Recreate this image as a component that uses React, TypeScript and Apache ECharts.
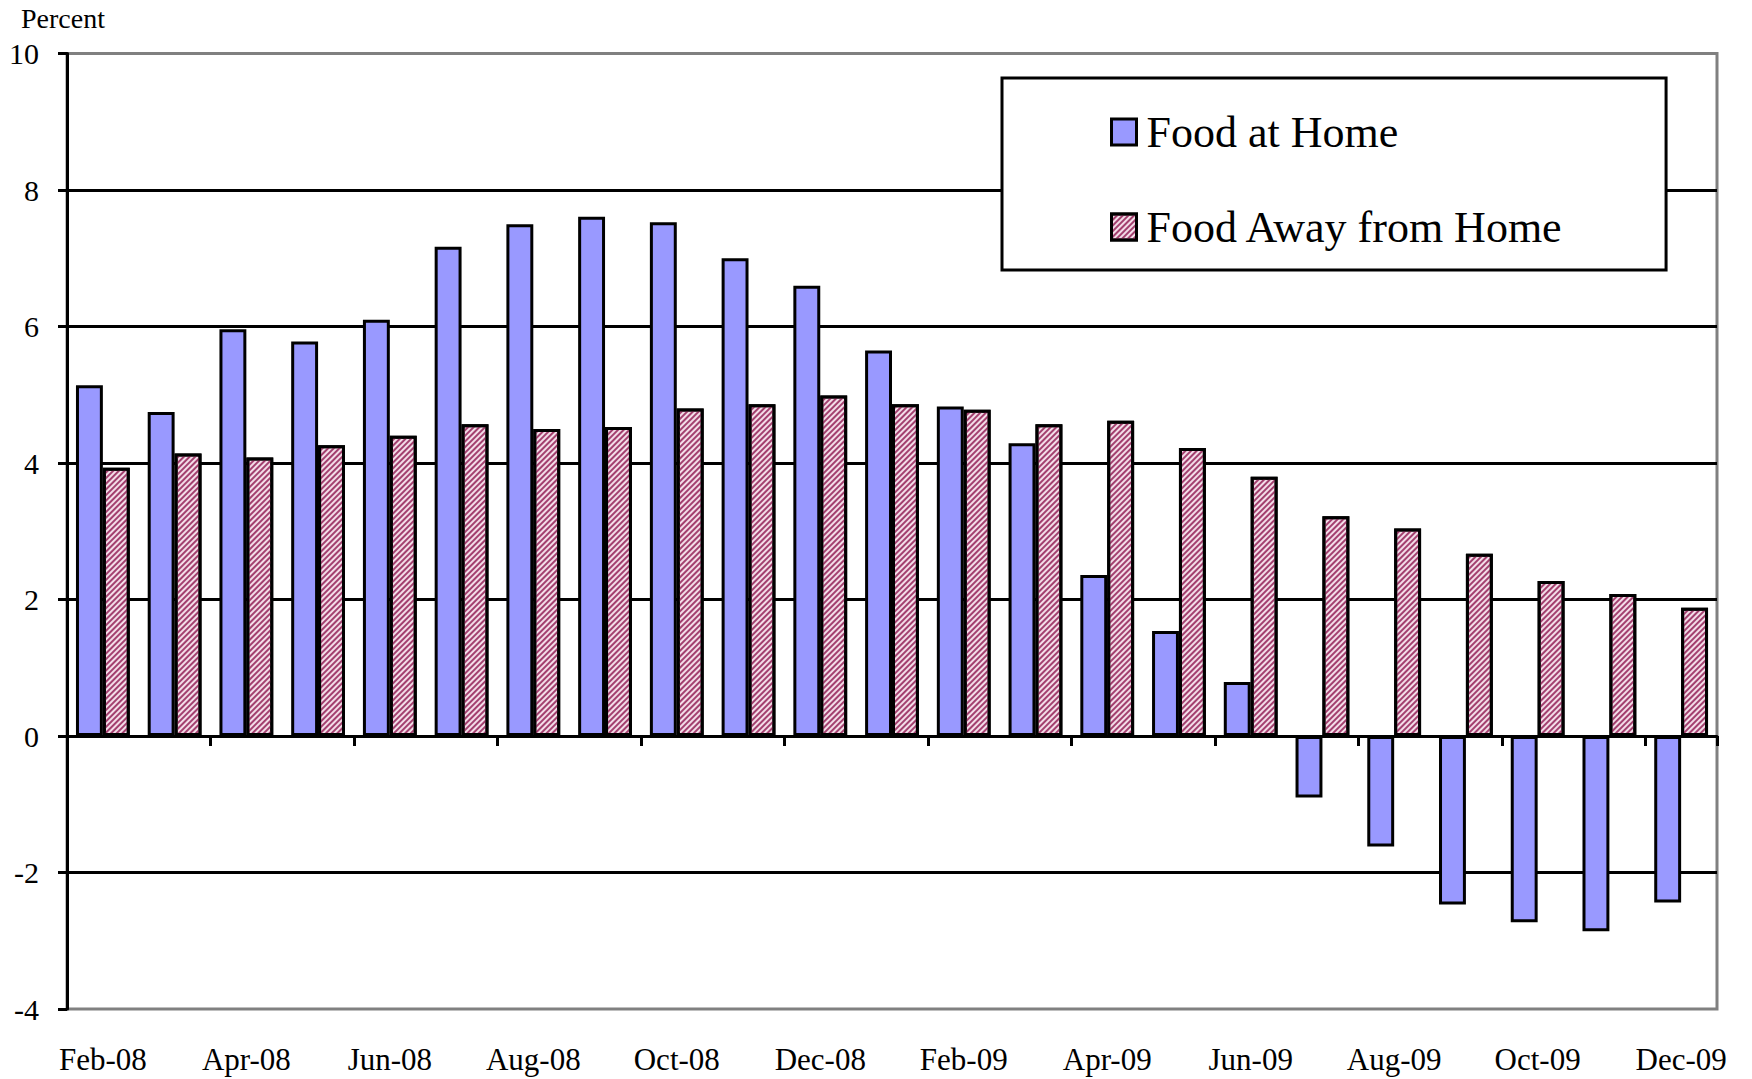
import React, { useEffect, useRef } from "react";
import * as echarts from "echarts";

const months = [
  "Feb-08", "Mar-08", "Apr-08", "May-08", "Jun-08", "Jul-08", "Aug-08", "Sep-08",
  "Oct-08", "Nov-08", "Dec-08", "Jan-09", "Feb-09", "Mar-09", "Apr-09", "May-09",
  "Jun-09", "Jul-09", "Aug-09", "Sep-09", "Oct-09", "Nov-09", "Dec-09",
];

const foodAtHome = [
  5.14, 4.75, 5.96, 5.78, 6.1, 7.17, 7.5, 7.61, 7.53, 7.0, 6.6, 5.65,
  4.83, 4.29, 2.36, 1.54, 0.79, -0.9, -1.62, -2.47, -2.73, -2.86, -2.44,
];

const foodAwayFromHome = [
  3.93, 4.14, 4.08, 4.26, 4.4, 4.57, 4.5, 4.53, 4.8, 4.86, 4.99, 4.86,
  4.78, 4.57, 4.62, 4.22, 3.8, 3.22, 3.04, 2.67, 2.27, 2.08, 1.88,
];

const seriesNames = ["Food at Home", "Food Away from Home"];
const yUnit = "Percent";

const FONT = "'Liberation Serif', 'Times New Roman', serif";

export default function App() {
  const ref = useRef<HTMLDivElement>(null);

  useEffect(() => {
    document.body.style.margin = "0";
    if (!ref.current) return;
    const chart = echarts.init(ref.current, undefined, { renderer: "svg" });
    chart.setOption({
      animation: false,
      backgroundColor: "#ffffff",
      grid: {
        left: 67,
        right: 35,
        top: 53.6,
        bottom: 70,
        show: true,
        borderColor: "#808080",
        borderWidth: 3,
        backgroundColor: "transparent",
      },
      legend: {
        left: 1002,
        top: 78,
        orient: "vertical",
        padding: [32, 102, 21, 108],
        itemGap: 51,
        itemWidth: 25,
        itemHeight: 26,
        borderColor: "#000",
        borderWidth: 3,
        backgroundColor: "#ffffff",
        icon: "rect",
        itemStyle: { borderColor: "#000", borderWidth: 3 },
        textStyle: {
          fontFamily: FONT,
          fontSize: 44,
          color: "#000",
          padding: [0, 0, 0, 5],
        },
        data: seriesNames,
      },
      graphic: [
        {
          type: "text",
          left: 21,
          top: 4,
          style: {
            text: yUnit,
            font: `28px ${FONT}`,
            fill: "#000",
          },
        },
      ],
      xAxis: [
        {
          type: "category",
          data: months,
          axisLine: { onZero: true, lineStyle: { color: "#000", width: 3 } },
          axisTick: {
            show: true,
            interval: 1,
            length: 10,
            lineStyle: { color: "#000", width: 3 },
          },
          axisLabel: { show: false },
          splitLine: { show: false },
        },
        {
          type: "category",
          data: months,
          position: "bottom",
          axisLine: { show: false, onZero: false },
          axisTick: { show: false },
          axisLabel: {
            interval: 1,
            margin: 35,
            fontFamily: FONT,
            fontSize: 31,
            color: "#000",
          },
          splitLine: { show: false },
        },
      ],
      yAxis: {
        type: "value",
        min: -4,
        max: 10,
        interval: 2,
        axisLine: { show: true, lineStyle: { color: "#000", width: 3 } },
        axisTick: { show: true, length: 9, lineStyle: { color: "#000", width: 3 } },
        axisLabel: {
          margin: 28,
          fontFamily: FONT,
          fontSize: 30,
          color: "#000",
        },
        splitLine: {
          show: true,
          showMinLine: false,
          showMaxLine: false,
          lineStyle: { color: "#000", width: 3 },
        },
      },
      series: [
        {
          name: seriesNames[0],
          type: "bar",
          data: foodAtHome,
          barGap: "0%",
          barCategoryGap: "25%",
          itemStyle: {
            color: "#9999FF",
            borderColor: "#000",
            borderWidth: 3,
          },
          z: 3,
        },
        {
          name: seriesNames[1],
          type: "bar",
          data: foodAwayFromHome,
          barGap: "0%",
          barCategoryGap: "25%",
          itemStyle: {
            color: "#f3dde8",
            borderColor: "#000",
            borderWidth: 3,
            decal: {
              symbol: "rect",
              symbolSize: 1,
              color: "#a3406f",
              dashArrayX: [1, 0],
              dashArrayY: [1.2, 1.3],
              rotation: -Math.PI / 4,
            },
          },
          z: 3,
        },
      ],
    });
    return () => chart.dispose();
  }, []);

  return <div ref={ref} style={{ width: 1752, height: 1079 }} />;
}
